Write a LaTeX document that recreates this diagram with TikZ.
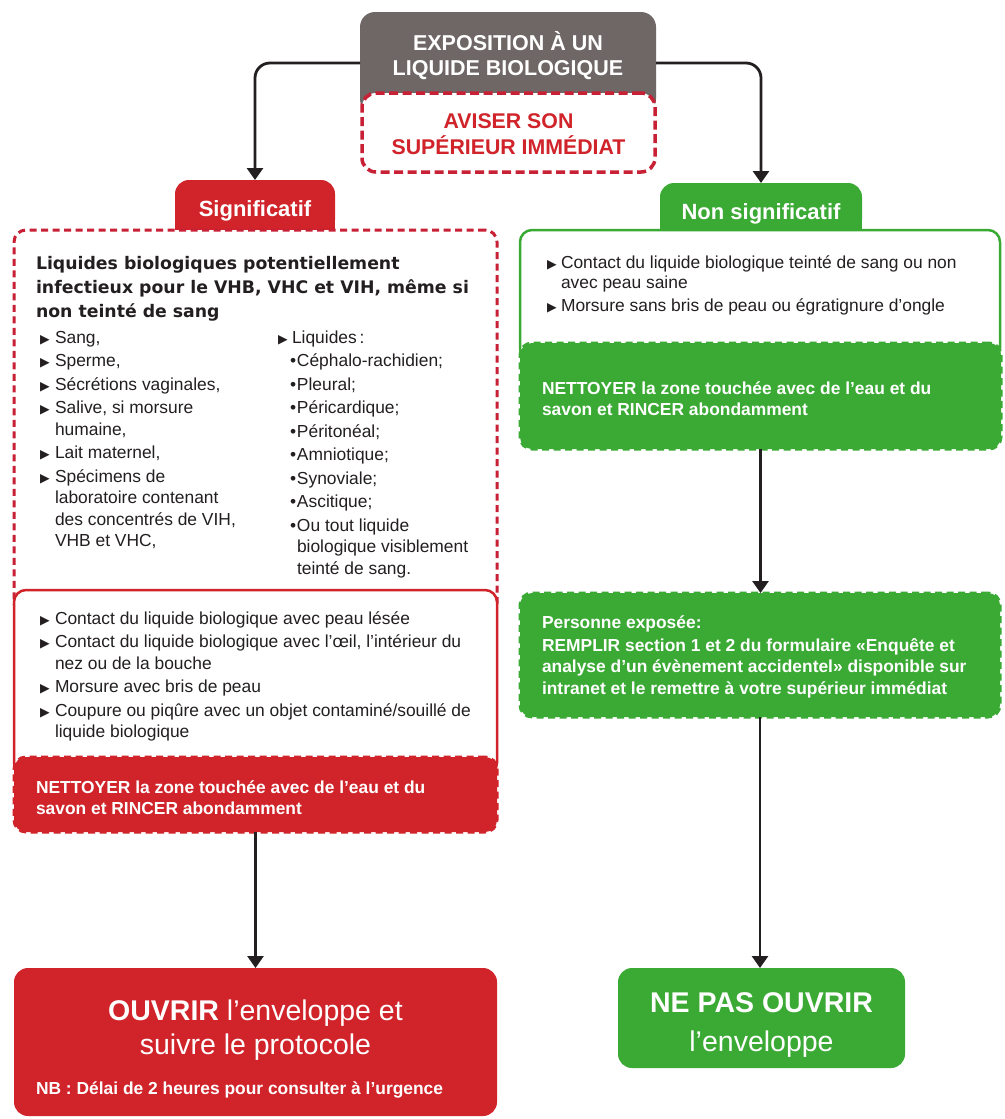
\documentclass[tikz,border=0pt]{standalone}
\usepackage{fontspec}
\setmainfont{Liberation Sans}
\newfontfamily\dejavu{DejaVu Sans}
\usetikzlibrary{arrows.meta}
\definecolor{cred}{RGB}{208,35,42}
\definecolor{cdash}{RGB}{200,32,52}
\definecolor{cgreen}{RGB}{59,170,53}
\definecolor{cgrey}{RGB}{110,103,101}
\definecolor{ctext}{RGB}{35,31,32}
\newcommand{\tri}[1][15pt]{\makebox[#1][l]{\raisebox{0pt}{\dejavu\fontsize{12.5}{12.5}\selectfont ▶}}}
\newcommand{\subb}{\hspace*{12pt}\makebox[7pt][l]{\textbullet}}
\newcommand{\ind}[1]{\hspace*{#1}}
\newcommand{\mlines}[2]{\begin{tabular}[t]{@{}#1@{}}#2\end{tabular}}
\begin{document}
\begin{tikzpicture}[x=1pt,y=-1pt,
  box/.style={inner sep=0pt, outer sep=0pt, rounded corners=12pt},
  dashbox/.style={box, draw, line width=3pt, dash pattern=on 7pt off 4.5pt},
  solidbox/.style={box, draw, line width=2.5pt, fill=white},
  txt/.style={inner sep=0pt, outer sep=0pt, anchor=base west},
  body/.style={txt, text=ctext, font=\fontsize{17.4}{21.5}\selectfont},
  wbold/.style={txt, text=white, font=\fontsize{17.4}{21}\selectfont\bfseries},
  arr/.style={draw=ctext, line width=2.8pt, -{Triangle[width=16pt,length=12pt]}}]
\useasboundingbox (0,0) rectangle (1004,1119);
\fill[white] (0,0) rectangle (1004,1119);

% top
\node[box, rounded corners=15pt, fill=cgrey, minimum width=296pt, minimum height=102pt] (expo) at (508,63) {};
\node[txt, anchor=base, text=white, font=\fontsize{21.5}{25}\selectfont\bfseries] (expotxt) at (508,50)
  {\mlines{c}{EXPOSITION À UN\\LIQUIDE BIOLOGIQUE}};
\node[box, rounded corners=14pt, fill=white, draw=cdash, line width=3.5pt, dash pattern=on 9pt off 4.5pt,
  minimum width=293pt, minimum height=79pt] (aviser) at (508.5,132.5) {};
\node[txt, anchor=base, text=cred, font=\fontsize{21.3}{24.5}\selectfont\bfseries] (avisertxt) at (508.5,128)
  {\mlines{c}{AVISER SON\\SUPÉRIEUR IMMÉDIAT}};

% tabs
\fill[cred] (175,215) rectangle (335,245);
\node[box, rounded corners=14pt, fill=cred, minimum width=160pt, minimum height=54pt] (sig) at (255,207) {};
\fill[cgreen] (660,215) rectangle (862,245);
\node[box, rounded corners=14pt, fill=cgreen, minimum width=202pt, minimum height=51pt] (nonsig) at (761,208.5) {};

% left column boxes
\node[dashbox, draw=cdash, fill=white, minimum width=483pt, minimum height=385pt] (sigbox) at (255.5,422.5) {};
\node[solidbox, draw=cred, minimum width=483pt, minimum height=185pt] (contact) at (255.5,682.5) {};
\node[dashbox, draw=cred, fill=cred, minimum width=483pt, minimum height=75pt] (redfill) at (255.5,794.5) {};
\node[box, rounded corners=14pt, fill=cred, minimum width=483pt, minimum height=148pt] (ouvrir) at (255.5,1042) {};

% right column boxes
\node[solidbox, draw=cgreen, minimum width=480pt, minimum height=130pt] (nsbox) at (760,295) {};
\node[dashbox, draw=cgreen, fill=cgreen, minimum width=481pt, minimum height=106pt] (greenfill) at (760.5,396) {};
\node[dashbox, draw=cgreen, fill=cgreen, minimum width=480pt, minimum height=124pt] (green2) at (760,655) {};
\node[box, rounded corners=14pt, fill=cgreen, minimum width=287pt, minimum height=100pt] (nepas) at (761.5,1018) {};

% tab texts
\node[txt, anchor=base, text=white, font=\fontsize{22}{26}\selectfont\bfseries] (sigtxt) at (255,216) {Significatif};
\node[txt, anchor=base, text=white, font=\fontsize{22}{26}\selectfont\bfseries] (nonsigtxt) at (761,219) {Non significatif};

% left texts
\node[txt, text=ctext, font=\dejavu\fontsize{17.3}{24}\selectfont\bfseries] (head) at (36,269)
  {\mlines{l}{Liquides biologiques potentiellement\\infectieux pour le VHB, VHC et VIH, même si\\non teinté de sang}};
\node[body] (listl) at (40,343) {\mlines{l}{%
  \tri Sang,\\[2pt]
  \tri Sperme,\\[2pt]
  \tri Sécrétions vaginales,\\[2pt]
  \tri Salive, si morsure\\
  \ind{15pt}humaine,\\[2pt]
  \tri Lait maternel,\\[2pt]
  \tri Spécimens de\\
  \ind{15pt}laboratoire contenant\\
  \ind{15pt}des concentrés de VIH,\\
  \ind{15pt}VHB et VHC,}};
\node[body] (listr) at (278,343) {\mlines{l}{%
  \tri[14pt]Liquides\,:\\[2pt]
  \subb Céphalo-rachidien;\\[2pt]
  \subb Pleural;\\[2pt]
  \subb Péricardique;\\[2pt]
  \subb Péritonéal;\\[2pt]
  \subb Amniotique;\\[2pt]
  \subb Synoviale;\\[2pt]
  \subb Ascitique;\\[2pt]
  \subb Ou tout liquide\\
  \ind{19pt}biologique visiblement\\
  \ind{19pt}teinté de sang.}};
\node[body] (listc) at (40,624) {\mlines{l}{%
  \tri Contact du liquide biologique avec peau lésée\\[2pt]
  \tri Contact du liquide biologique avec l’œil, l’intérieur du\\
  \ind{15pt}nez ou de la bouche\\[2pt]
  \tri Morsure avec bris de peau\\[2pt]
  \tri Coupure ou piqûre avec un objet contaminé/souillé de\\
  \ind{15pt}liquide biologique}};
\node[wbold] (redfilltxt) at (36,793)
  {\mlines{l}{NETTOYER la zone touchée avec de l’eau et du\\savon et RINCER abondamment}};
\node[txt, anchor=base, text=white, font=\fontsize{28.5}{34}\selectfont] (ouvrirtxt) at (255.5,1020)
  {\mlines{c}{\textbf{OUVRIR} l’enveloppe et\\suivre le protocole}};
\node[wbold] (nbtxt) at (36,1094) {NB : Délai de 2 heures pour consulter à l’urgence};

% right texts
\node[body, font=\fontsize{17.4}{20.5}\selectfont] (listg) at (547,268) {\mlines{l}{%
  \tri[14pt]Contact du liquide biologique teinté de sang ou non\\
  \ind{14pt}avec peau saine\\[2.5pt]
  \tri[14pt]Morsure sans bris de peau ou égratignure d’ongle}};
\node[wbold] (greenfilltxt) at (542,394)
  {\mlines{l}{NETTOYER la zone touchée avec de l’eau et du\\savon et RINCER abondamment}};
\node[wbold, font=\fontsize{17.4}{21.5}\selectfont\bfseries] (green2txt) at (542,628)
  {\mlines{l}{Personne exposée:\\[1.5pt]
  REMPLIR section 1 et 2 du formulaire «Enquête et\\
  analyse d’un évènement accidentel» disponible sur\\
  intranet et le remettre à votre supérieur immédiat}};
\node[txt, anchor=base, text=white, font=\fontsize{28.5}{39}\selectfont] (nepastxt) at (761.5,1012)
  {\mlines{c}{\textbf{NE PAS OUVRIR}\\l’enveloppe}};

% connectors
\draw[arr, rounded corners=15pt] (expo.west) -| (sig.north);
\draw[arr, rounded corners=15pt] (expo.east) -| (nonsig.north);
\draw[arr] (redfill.south) -- (ouvrir.north);
\draw[arr] (greenfill.south) -- (greenfill.south |- green2.north);
\draw[arr] (green2.south) -- (green2.south |- nepas.north);
\end{tikzpicture}
\end{document}
